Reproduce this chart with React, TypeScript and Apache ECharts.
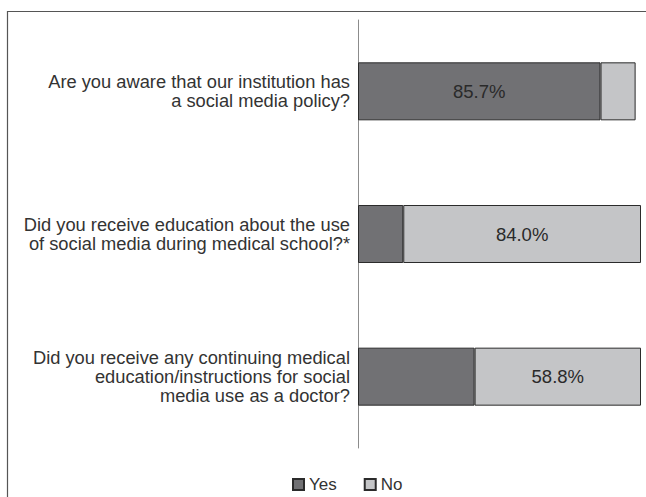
import React, { useEffect, useRef } from "react";
import * as echarts from "echarts";

const categories = [
  "Are you aware that our institution has\na social media policy?",
  "Did you receive education about the use\nof social media during medical school?*",
  "Did you receive any continuing medical\neducation/instructions for social\nmedia use as a doctor?",
];
const yesValues = [85.7, 16.0, 41.2];
const noValues = [12.4, 84.0, 58.8];
const seriesNames = ["Yes", "No"];

const FONT = "'Liberation Sans', Arial, sans-serif";

export default function App() {
  const ref = useRef<HTMLDivElement>(null);
  useEffect(() => {
    if (!ref.current) return;
    const chart = echarts.init(ref.current, null, { renderer: "svg" });
    const mk = (vals: number[], other: number[]) =>
      vals.map((v, i) => ({
        value: v,
        label: { show: v > other[i] },
      }));
    chart.setOption({
      animation: false,
      backgroundColor: "#ffffff",
      textStyle: { fontFamily: FONT },
      grid: { left: 358, right: 5, top: 20, bottom: 49 },
      xAxis: {
        type: "value",
        min: 0,
        max: 100,
        show: false,
      },
      yAxis: {
        type: "category",
        data: categories,
        inverse: true,
        axisTick: { show: false },
        axisLine: { show: true, lineStyle: { color: "#8c8c8c", width: 1 } },
        axisLabel: {
          fontSize: 18.3,
          lineHeight: 19,
          color: "#333333",
          fontFamily: FONT,
          margin: 8,
          align: "right",
        },
      },
      legend: {
        top: 471,
        left: 287,
        itemWidth: 11,
        itemHeight: 11,
        itemGap: 27,
        icon: "rect",
        textStyle: { fontSize: 17, color: "#333333", fontFamily: FONT },
        data: seriesNames,
      },
      graphic: [
        {
          type: "line",
          shape: { x1: 7, y1: 11.5, x2: 646, y2: 11.5 },
          style: { stroke: "#555555", lineWidth: 1.2 },
        },
        {
          type: "line",
          shape: { x1: 7.5, y1: 11, x2: 7.5, y2: 497 },
          style: { stroke: "#555555", lineWidth: 1.2 },
        },
      ],
      series: [
        {
          name: seriesNames[0],
          type: "bar",
          stack: "total",
          barWidth: 58,
          data: mk(yesValues, noValues),
          itemStyle: { color: "#717174", borderColor: "#2b2b2b", borderWidth: 1 },
          label: {
            position: "inside",
            formatter: (p: any) => p.value.toFixed(1) + "%",
            fontSize: 18.5,
            color: "#2a2a2a",
            fontFamily: FONT,
          },
        },
        {
          name: seriesNames[1],
          type: "bar",
          stack: "total",
          barWidth: 58,
          data: mk(noValues, yesValues),
          itemStyle: { color: "#c4c5c7", borderColor: "#2b2b2b", borderWidth: 1 },
          label: {
            position: "inside",
            formatter: (p: any) => p.value.toFixed(1) + "%",
            fontSize: 18.5,
            color: "#2a2a2a",
            fontFamily: FONT,
          },
        },
      ],
    });
    return () => chart.dispose();
  }, []);
  return (
    <div
      ref={ref}
      style={{ position: "fixed", left: 0, top: 0, width: 646, height: 497 }}
    />
  );
}
